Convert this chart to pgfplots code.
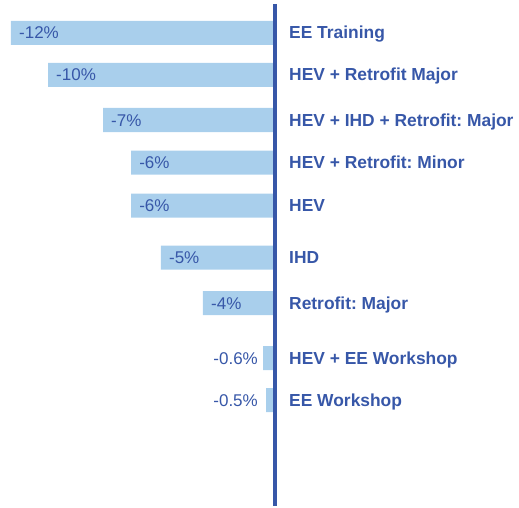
\documentclass[border=0pt]{standalone}
\usepackage{fontspec}
\setmainfont{Liberation Sans}
\usepackage{pgfplots}
\usepackage{pgfplotstable}
\pgfplotsset{compat=1.18}
\definecolor{barblue}{HTML}{A9CFEC}
\definecolor{darkblue}{HTML}{3757A8}
\frenchspacing

% y = vertical position of bar centre (top = 0), val = change in %
\pgfplotstableread{
y     val     lab
33    -12.0   -12
75    -10.31  -10
120   -7.80   -7
162.5 -6.52   -6
205.5 -6.52   -6
257.5 -5.16   -5
303   -3.24   -4
}\bigbars

\pgfplotstableread{
y     val     lab   sh
358   -0.50   -0.6  -5
400   -0.365  -0.5  -8
}\smallbars

\pgfplotstableread{
y     name
33    {EE Training}
75    {HEV + Retrofit Major}
120   {HEV + IHD + Retrofit: Major}
162.5 {HEV + Retrofit: Minor}
205.5 {HEV}
257.5 {IHD}
303   {Retrofit: Major}
358   {HEV + EE Workshop}
400   {EE Workshop}
}\cats

\begin{document}
\begin{tikzpicture}
\begin{axis}[
  scale only axis,
  width=519bp, height=508bp,
  xmin=-12.5, xmax=11.177,
  ymin=0, ymax=508, y dir=reverse,
  hide axis,
  clip=false,
]
\path (rel axis cs:0,0) rectangle (rel axis cs:1,1);
\addplot[xbar, bar shift=0pt, bar width=24, fill=barblue, draw=none,
  nodes near coords={\pgfplotspointmeta\%},
  point meta=explicit symbolic,
  every node near coord/.append style={anchor=base west, inner sep=0pt,
    xshift=8bp, yshift=-6bp, text=darkblue, font=\fontsize{17bp}{20bp}\selectfont},
  nodes near coords align={anchor=base west},
] table[x=val, y=y, meta=lab] {\bigbars};

\addplot[xbar, bar shift=0pt, bar width=24, fill=barblue, draw=none,
  nodes near coords={\pgfplotspointmeta\%},
  point meta=explicit symbolic,
  visualization depends on={\thisrow{sh} \as \myshift},
  every node near coord/.append style={anchor=base east, inner sep=0pt,
    xshift=\myshift bp, yshift=-6bp, text=darkblue, font=\fontsize{17bp}{20bp}\selectfont},
  nodes near coords align={anchor=base east},
] table[x=val, y=y, meta=lab] {\smallbars};

\addplot[draw=none, mark=none,
  nodes near coords,
  point meta=explicit symbolic,
  every node near coord/.append style={anchor=base west, inner sep=0pt,
    xshift=15bp, yshift=-6bp, text=darkblue, font=\fontsize{17.4bp}{20bp}\selectfont\bfseries},
  nodes near coords align={anchor=base west},
] table[x expr=0, y=y, meta=name] {\cats};

\draw[darkblue, line width=4bp] (axis cs:0.04,4) -- (axis cs:0.04,506);
\end{axis}
\end{tikzpicture}
\end{document}
